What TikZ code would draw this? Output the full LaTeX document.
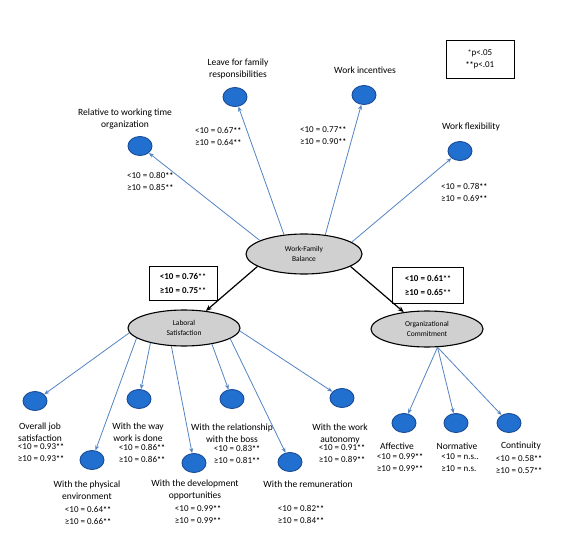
\documentclass[tikz,border=0pt]{standalone}
\usepackage{fontspec}
\setmainfont{Carlito}
\usetikzlibrary{shapes.geometric,arrows.meta}
\definecolor{circfill}{RGB}{33,112,208}
\definecolor{circline}{RGB}{25,75,150}
\definecolor{arrblue}{RGB}{84,132,196}
\definecolor{ellfill}{RGB}{208,208,208}
\newcommand{\sst}{{\fontsize{8}{8}\selectfont\bfseries **}}
\begin{document}
\begin{tikzpicture}[x=1pt,y=-1pt,
  latent/.style={ellipse, draw=black, line width=1.1pt, fill=ellfill, minimum width=112pt, minimum height=36pt, inner sep=0pt, align=center, font=\fontsize{7.5}{9.5}\selectfont},
  ind/.style={ellipse, draw=circline, line width=0.9pt, fill=circfill, minimum width=24pt, minimum height=19pt, inner sep=0pt},
  lbl/.style={align=center, font=\fontsize{9.5}{11.5}\selectfont, inner sep=0pt},
  val/.style={align=left, font=\fontsize{9}{12}\selectfont, inner sep=0pt},
  barrow/.style={-{Stealth[length=5pt,width=4pt]}, draw=arrblue, line width=0.8pt},
  karrow/.style={-{Stealth[length=6pt,width=5pt]}, draw=black, line width=1.2pt},
  bbox/.style={draw=black, line width=1pt, align=left, font=\bfseries\fontsize{9}{14}\selectfont, inner sep=0pt}
]
\useasboundingbox[fill=white] (0,0) rectangle (579,554);

% latent variables
\node[latent, minimum width=116pt, minimum height=40pt] (wf) at (304,254) {Work-Family\\Balance};
\node[latent] (ls) at (184,328) {Laboral\\Satisfaction};
\node[latent] (oc) at (427,329) {Organizational\\Commitment};

% coefficient boxes
\node[bbox, minimum width=68pt, minimum height=34pt] (b1) at (183,283) {<10 = 0.76\sst\\≥10 = 0.75\sst};
\node[bbox, minimum width=71pt, minimum height=36pt] (b2) at (428,285) {<10 = 0.61\sst\\≥10 = 0.65\sst};
\node[draw=black, line width=1pt, minimum width=68pt, minimum height=38pt, align=center, inner sep=0pt, font=\fontsize{9}{12}\selectfont] (leg) at (480,59) {{\fontsize{8}{8}\selectfont *}p<.05\\{\fontsize{8}{8}\selectfont\bfseries **}p<.01};

% top indicators
\node[ind] (r1) at (140,146) {};
\node[ind] (r2) at (235,97) {};
\node[ind] (r3) at (364,95) {};
\node[ind] (r4) at (460,151) {};
\node[lbl] (t1) at (125,119) {Relative to working time\\organization};
\node[lbl] (t2) at (238,69) {Leave for family\\responsibilities};
\node[lbl] (t3) at (365,70) {Work incentives};
\node[lbl] (t4) at (471,127) {Work flexibility};
\node[val, anchor=west] (v1) at (127,181) {<10 = 0.80\sst\\≥10 = 0.85\sst};
\node[val, anchor=west] (v2) at (195,136) {<10 = 0.67\sst\\≥10 = 0.64\sst};
\node[val, anchor=west] (v3) at (300,136) {<10 = 0.77\sst\\≥10 = 0.90\sst};
\node[val, anchor=west] (v4) at (441,192) {<10 = 0.78\sst\\≥10 = 0.69\sst};

% laboral satisfaction indicators
\node[ind] (s1) at (35,401) {};
\node[ind] (s2) at (92,460) {};
\node[ind] (s3) at (139,399) {};
\node[ind] (s4) at (194,463) {};
\node[ind] (s5) at (232,399) {};
\node[ind] (s6) at (290,462) {};
\node[ind] (s7) at (342,398) {};
\node[lbl] (ts1) at (40,432) {Overall job\\satisfaction};
\node[lbl] (ts2) at (87,490) {With the physical\\environment};
\node[lbl] (ts3) at (138,432) {With the way\\work is done};
\node[lbl] (ts4) at (195,490) {With the development\\opportunities};
\node[lbl] (ts5) at (232,433) {With the relationship\\with the boss};
\node[lbl] (ts6) at (308,484) {With the remuneration};
\node[lbl] (ts7) at (340,434) {With the work\\autonomy};
\node[val] (vs1) at (41,453) {<10 = 0.93\sst\\≥10 = 0.93\sst};
\node[val] (vs2) at (88,515) {<10 = 0.64\sst\\≥10 = 0.66\sst};
\node[val] (vs3) at (142,453) {<10 = 0.86\sst\\≥10 = 0.86\sst};
\node[val] (vs4) at (198,515) {<10 = 0.99\sst\\≥10 = 0.99\sst};
\node[val] (vs5) at (237,454) {<10 = 0.83\sst\\≥10 = 0.81\sst};
\node[val] (vs6) at (301,514) {<10 = 0.82\sst\\≥10 = 0.84\sst};
\node[val] (vs7) at (342,454) {<10 = 0.91\sst\\≥10 = 0.89\sst};

% organizational commitment indicators
\node[ind] (c1) at (404,423) {};
\node[ind] (c2) at (456,423) {};
\node[ind] (c3) at (509,423) {};
\node[lbl] (tc1) at (397,446) {Affective};
\node[lbl] (tc2) at (457,446) {Normative};
\node[lbl] (tc3) at (521,446) {Continuity};
\node[val] (vc1) at (400,463) {<10 = 0.99\sst\\≥10 = 0.99\sst};
\node[val] (vc2) at (460,463) {<10 = n.s..\\≥10 = n.s.};
\node[val] (vc3) at (519,464) {<10 = 0.58\sst\\≥10 = 0.57\sst};

% connectors
\draw[barrow] (wf.163) -- (r1);
\draw[barrow] (wf.136) -- (r2);
\draw[barrow] (wf.42) -- (r3);
\draw[barrow] (wf.14) -- (r4);

\draw[karrow] (wf.195) -- (ls.38);
\draw[karrow] (wf.345) -- (oc.144);

\draw[barrow] (ls.185) -- (s1);
\draw[barrow] (ls.192) -- (s2);
\draw[barrow] (ls.204) -- (s3);
\draw[barrow] (ls.235) -- (s4);
\draw[barrow] (ls.330) -- (s5);
\draw[barrow] (ls.347) -- (s6);
\draw[barrow] (ls.357) -- (s7);

\draw[barrow] (oc.300) -- (c1);
\draw[barrow] (oc.300) -- (c2);
\draw[barrow] (oc.300) -- (c3);
\end{tikzpicture}
\end{document}
